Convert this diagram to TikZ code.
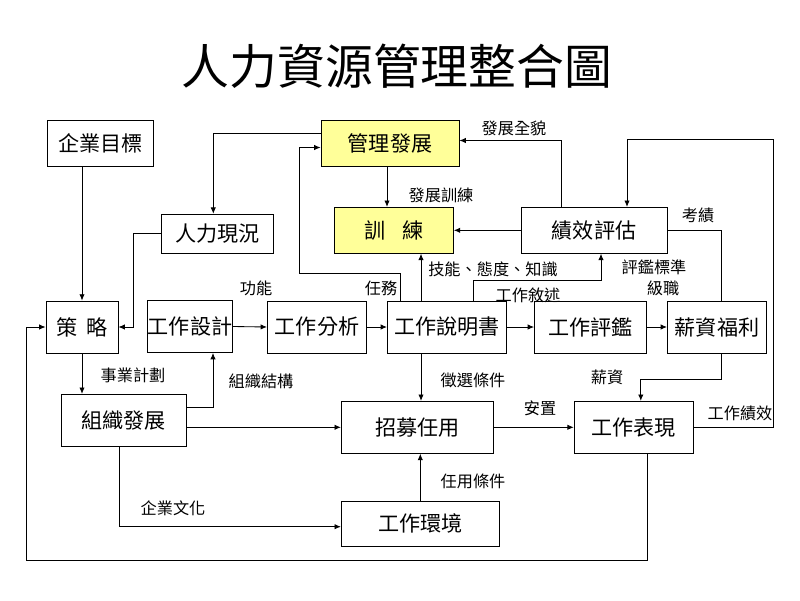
\documentclass[tikz,border=0pt]{standalone}
\usepackage{xcolor}
\usepackage{fontspec}
\setmainfont{Noto Sans CJK TC}
\usepackage{tikz}
\usetikzlibrary{positioning,calc,arrows.meta}
\definecolor{devyellow}{RGB}{255,255,153}

\begin{document}
\begin{tikzpicture}[x=0.025cm,y=-0.025cm,inner sep=0pt,line width=0.6pt]
    \tikzset{box/.style={rectangle,draw,fill=white,minimum height=1.3cm,font=\fontsize{15}{18}\selectfont}};
    \tikzset{devbox/.style={box,fill=devyellow}};
    \tikzset{tag/.style={font=\fontsize{11.5}{13}\selectfont}};
    \tikzset{arr/.style={-{Latex[length=4.5pt,width=3.8pt]}}};

    \useasboundingbox (0,0) rectangle (800,600);
    \node [font=\fontsize{34}{40}\selectfont] (title) at (397,66) {人力資源管理整合圖};

    \node [box,minimum width=2.63cm,minimum height=1.13cm] (goal) at (100.5,143.5) {企業目標};
    \node [devbox,minimum width=3.45cm,minimum height=1.13cm] (mgmt) at (390,143.5) {管理發展};
    \node [box,minimum width=2.8cm,minimum height=0.98cm] (staff) at (217.3,233.8) {人力現況};
    \node [devbox,minimum width=2.98cm,minimum height=1.15cm] (train) at (393.8,230.3) {訓\hspace{0.8em}練};
    \node [box,minimum width=3.65cm,minimum height=1.15cm] (appraise) at (594,230.3) {績效評估};

    \node [box,minimum width=1.8cm] (strat) at (82,327) {策\hspace{0.45em}略};
    \node [box,minimum width=2.13cm] (design) at (190,326.5) {工作設計};
    \node [box,minimum width=2.48cm] (analysis) at (317,327) {工作分析};
    \node [box,minimum width=2.98cm] (spec) at (447,327) {工作說明書};
    \node [box,minimum width=2.8cm] (evaluate) at (590.5,327) {工作評鑑};
    \node [box,minimum width=2.48cm] (pay) at (717,327) {薪資福利};

    \node [box,minimum width=3.13cm] (orgdev) at (123.8,420.3) {組織發展};
    \node [box,minimum width=3.8cm] (recruit) at (417.3,427.3) {招募任用};
    \node [box,minimum width=2.98cm] (perform) at (633.8,427.3) {工作表現};
    \node [box,minimum width=3.95cm,minimum height=1.13cm] (env) at (420.3,523.7) {工作環境};

    % labels
    \node [tag] (lfull) at (514,128) {發展全貌};
    \node [tag] (ltrain) at (441,195) {發展訓練};
    \node [tag] (lscore) at (698,215) {考績};
    \node [tag] (lskill) at (493,269) {技能、態度、知識};
    \node [tag] (lcrit) at (654,267) {評鑑標準};
    \node [tag] (lrank) at (663,288) {級職};
    \node [tag] (lfunc) at (256,288) {功能};
    \node [tag] (ltask) at (381,288) {任務};
    \node [tag] (ldesc) at (528,295) {工作敘述};
    \node [tag] (lplan) at (133,375) {事業計劃};
    \node [tag] (lstruct) at (261,381) {組織結構};
    \node [tag] (lselect) at (473,380) {徵選條件};
    \node [tag] (lsalary) at (607,377) {薪資};
    \node [tag] (lplace) at (540,408) {安置};
    \node [tag] (lresult) at (740,413) {工作績效};
    \node [tag] (lculture) at (173,508) {企業文化};
    \node [tag] (lhire) at (473,481) {任用條件};

    % helper points
    \coordinate (m1) at ($(mgmt.south)+(-3,0)$);
    \coordinate (s1) at ($(spec.north)+(-47,0)$);
    \coordinate (s2) at ($(spec.north)+(-26,0)$);
    \coordinate (s4) at ($(spec.south)+(-26,0)$);

    % top part
    \draw [arr] (goal.south -| strat.north) -- (strat.north);
    \draw [arr] ($(mgmt.west)+(0,-10)$) -| ($(staff.north)+(-4,0)$);
    \draw [arr] (staff.west) -| ($(strat.east)+(15,0)$) -- (strat.east);
    \draw [arr] (m1) -- (m1 |- train.north);
    \draw [arr] (s1) |- ($(mgmt.west)+(-21,130)$) |- ($(mgmt.west)+(0,4)$);
    \draw [arr] (s2) -- (s2 |- train.south);
    \draw [arr] ($(spec.north)+(26,0)$) |- ($(appraise.south)+(7,27)$) -- ($(appraise.south)+(7,0)$);
    \draw [arr] (appraise.west) -- (train.east);
    \draw [arr] ($(appraise.north)+(-33,0)$) |- ($(mgmt.east)+(0,-3)$);
    \draw [arr] (perform.east) -| ($(appraise.north)+(179,-67)$) -| ($(appraise.north)+(33,0)$);
    \draw (appraise.east) -| ($(pay.north)+(4,0)$);

    % middle row
    \draw [arr] (design.east) -- (analysis.west);
    \draw [arr] (analysis.east) -- (spec.west);
    \draw [arr] (spec.east) -- (evaluate.west);
    \draw [arr] (evaluate.east) -- (pay.west);

    % bottom part
    \draw [arr] (strat.south) -- (strat.south |- orgdev.north);
    \draw [arr] ($(orgdev.east)+(0,-13)$) -| ($(design.south)+(23,0)$);
    \draw [arr] (orgdev.east |- recruit.west) -- (recruit.west);
    \draw [arr] ($(orgdev.south)+(-4,0)$) |- ($(env.west)+(0,3)$);
    \draw [arr] (s4) -- (s4 |- recruit.north);
    \draw [arr] (env.north) -- (env.north |- recruit.south);
    \draw [arr] (recruit.east) -- (perform.west);
    \draw [arr] ($(pay.south)+(4,0)$) |- ($(perform.north)+(7,-21)$) -- ($(perform.north)+(7,0)$);
    \draw [arr] ($(perform.south)+(14,0)$) |- ($(strat.west)+(-19,233)$) |- (strat.west);
\end{tikzpicture}
\end{document}
